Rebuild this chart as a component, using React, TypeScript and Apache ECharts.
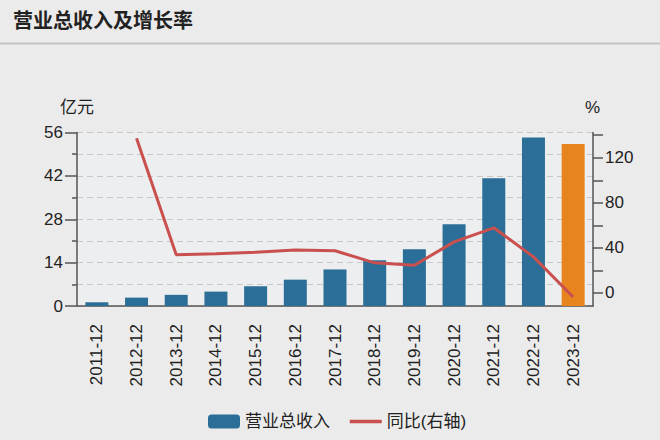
import React, { useEffect, useRef } from "react";
import * as echarts from "echarts";

const categories = [
  "2011-12", "2012-12", "2013-12", "2014-12", "2015-12", "2016-12", "2017-12",
  "2018-12", "2019-12", "2020-12", "2021-12", "2022-12", "2023-12",
];
const revenue = [1.2, 2.7, 3.6, 4.65, 6.4, 8.5, 11.8, 14.8, 18.35, 26.35, 41.2, 54.4, 52.3];
const growth = [null, 137.2, 33.8, 34.7, 36.2, 38.0, 37.4, 26.7, 24.6, 45.3, 57.8, 32.0, -3.6];
const leftTickValues = [0, 14, 28, 42, 56];
const rightTickValues = [0, 20, 40, 60, 80, 100, 120, 140];
const rightLabelValues = [0, 40, 80, 120];

const FONT = "'Liberation Sans', 'Noto Sans CJK SC', sans-serif";
const BLUE = "#2b6f98";
const ORANGE = "#e8841f";
const RED = "#c9504f";
const AXIS = "#555555";

export default function App() {
  const ref = useRef<HTMLDivElement>(null);
  useEffect(() => {
    document.body.style.background = "#ebebeb";
    const chart = echarts.init(ref.current!, null, { renderer: "svg" });
    chart.setOption({
      animation: false,
      backgroundColor: "#ebebeb",
      textStyle: { fontFamily: FONT },
      graphic: [
        {
          type: "text",
          left: 13,
          top: 11,
          style: { text: "营业总收入及增长率", fontSize: 20, fontWeight: "bold", fill: "#222", fontFamily: FONT },
        },
        {
          type: "line",
          shape: { x1: 0, y1: 43.5, x2: 660, y2: 43.5 },
          style: { stroke: "#c4c4c4", lineWidth: 2 },
        },
        {
          type: "text",
          left: 60,
          top: 99,
          style: { text: "亿元", fontSize: 17, fill: "#222", fontFamily: FONT },
        },
        {
          type: "text",
          left: 585,
          top: 99,
          style: { text: "%", fontSize: 17, fill: "#222", fontFamily: FONT },
        },
      ],
      legend: {
        left: 203,
        top: 408,
        itemWidth: 32,
        itemHeight: 14,
        itemGap: 18,
        textStyle: { fontSize: 17, color: "#222", fontFamily: FONT },
        data: [
          { name: "营业总收入", icon: "roundRect", itemStyle: { color: BLUE } },
          {
            name: "同比(右轴)",
            itemStyle: { color: "rgba(0,0,0,0)", opacity: 0 },
            lineStyle: { color: RED, width: 3.5 },
          },
        ],
      },
      grid: { left: 77, right: 67, top: 132.5, bottom: 134, show: true, backgroundColor: "#edeeef", borderWidth: 0 },
      xAxis: {
        type: "category",
        data: categories,
        axisLine: { lineStyle: { color: AXIS, width: 1.5 } },
        axisTick: { alignWithLabel: true, length: 12, lineStyle: { color: AXIS, width: 1.5 } },
        axisLabel: { rotate: 90, margin: 18, fontSize: 17, color: "#222", fontFamily: FONT },
      },
      yAxis: [
        {
          type: "value",
          min: 0,
          max: 56,
          interval: 14,
          axisLine: { show: true, lineStyle: { color: AXIS, width: 1.5 } },
          axisTick: { show: true, length: 12, lineStyle: { color: AXIS, width: 1.5 } },
          minorTick: { show: true, splitNumber: 2, length: 5, lineStyle: { color: AXIS, width: 1.5 } },
          axisLabel: { margin: 14, fontSize: 17, color: "#222", fontFamily: FONT, customValues: leftTickValues },
          splitLine: { show: true, lineStyle: { color: "#c8c8c8", type: [6, 4], width: 1 } },
          minorSplitLine: { show: true, lineStyle: { color: "#c8c8c8", type: [6, 4], width: 1 } },
        },
        {
          type: "value",
          min: -11.6,
          max: 142.4,
          position: "right",
          axisLine: { show: true, lineStyle: { color: AXIS, width: 1.5 } },
          axisTick: { show: true, length: 10, customValues: rightTickValues, lineStyle: { color: AXIS, width: 1.5 } },
          axisLabel: { margin: 12, fontSize: 17, color: "#222", fontFamily: FONT, customValues: rightLabelValues },
          splitLine: { show: false },
        },
      ],
      series: [
        {
          name: "营业总收入",
          type: "bar",
          yAxisIndex: 0,
          barWidth: 23,
          itemStyle: { color: BLUE },
          data: revenue.map((v, i) =>
            i === revenue.length - 1 ? { value: v, itemStyle: { color: ORANGE } } : v
          ),
        },
        {
          name: "同比(右轴)",
          type: "line",
          yAxisIndex: 1,
          symbol: "none",
          lineStyle: { color: RED, width: 3 },
          itemStyle: { color: RED },
          data: growth,
        },
      ],
    });
    return () => chart.dispose();
  }, []);
  return (
    <div
      ref={ref}
      style={{ position: "absolute", left: 0, top: 0, width: 660, height: 440 }}
    />
  );
}
